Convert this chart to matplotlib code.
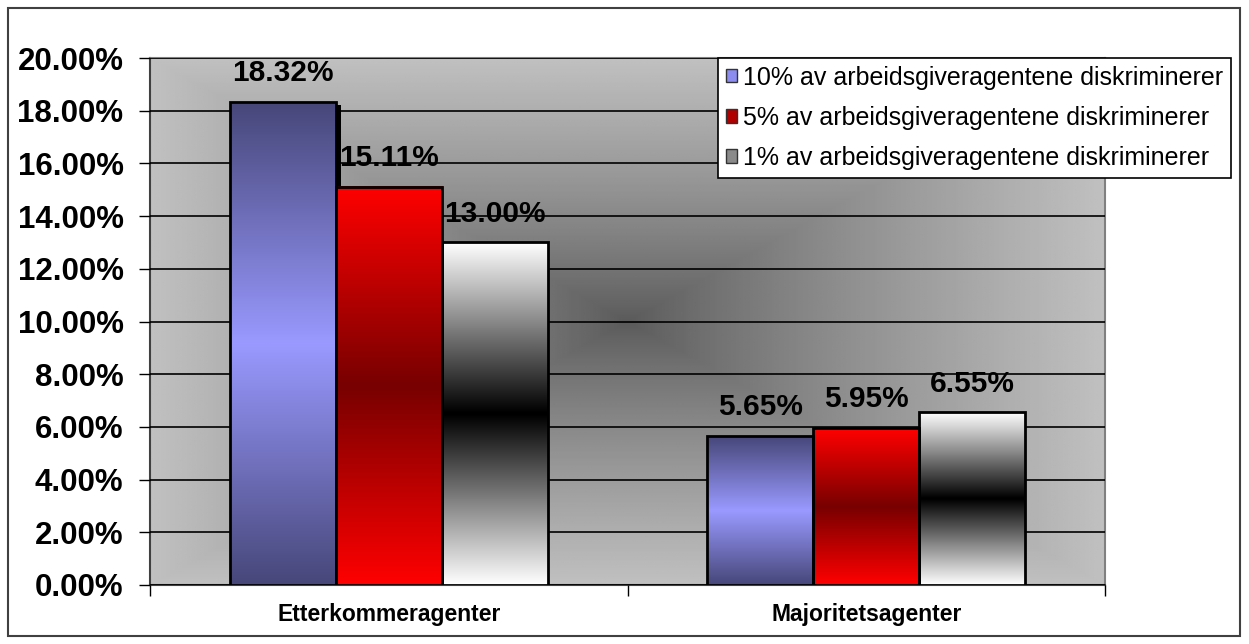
import matplotlib
matplotlib.use('Agg')
import matplotlib.pyplot as plt
import numpy as np
from matplotlib.colors import LinearSegmentedColormap
from matplotlib.patches import Rectangle
from matplotlib.transforms import offset_copy

categories = ['Etterkommeragenter', 'Majoritetsagenter']
series_names = ['10% av arbeidsgiveragentene diskriminerer',
                '5% av arbeidsgiveragentene diskriminerer',
                '1% av arbeidsgiveragentene diskriminerer']
values_10 = [18.32, 5.65]
values_5 = [15.11, 5.95]
values_1 = [13.00, 6.55]
yticks = [0, 2, 4, 6, 8, 10, 12, 14, 16, 18, 20]

# (edge colour, centre colour) of each vertical bar gradient
gradients = [('#47477a', '#9999ff'), ('#ff0000', '#780000'), ('#ffffff', '#000000')]
legend_colors = ['#8c8cf0', '#b00000', '#8a8a8a']

plt.rcParams['font.family'] = ['Liberation Sans', 'DejaVu Sans']

W, H = 1249, 644
fig = plt.figure(figsize=(W / 100, H / 100), dpi=100)
fig.patch.set_facecolor('white')
fig.patches.append(Rectangle((8 / W, 8 / H), 1232 / W, 628 / H, transform=fig.transFigure,
                             fill=False, edgecolor='#404040', lw=1.5))

ax = fig.add_axes([150 / W, (H - 585) / H, 955 / W, 527 / H])

# plot area background: rectangular gradient, dark in the centre
gx = np.linspace(-1, 1, 400)
gy = np.linspace(-1, 1, 300)
X, Y = np.meshgrid(gx, gy)
r = np.maximum(np.abs(X), np.abs(Y)) ** 0.85
bg = 90 + (192 - 90) * r
ax.imshow(bg, cmap='gray', vmin=0, vmax=255, extent=(0, 1, 0, 1), transform=ax.transAxes,
          aspect='auto', zorder=0, interpolation='bilinear')

n = 3
width = 1 / (n + 1.5)
x = np.arange(len(categories))
all_values = [values_10, values_5, values_1]

ramp = np.concatenate([np.linspace(0, 1, 128), np.linspace(1, 0, 128)])[:, None]
shadow_tr = offset_copy(ax.transData, fig=fig, x=5, y=-3, units='dots')

for i, vals in enumerate(all_values):
    cmap = LinearSegmentedColormap.from_list(f'g{i}', list(gradients[i]))
    for j, v in enumerate(vals):
        left = x[j] - 1.5 * width + i * width
        if i == 0:
            sh = Rectangle((left, 0), width, v, transform=shadow_tr, facecolor='black',
                           edgecolor='none', zorder=2)
            ax.add_patch(sh)
        ax.imshow(ramp, cmap=cmap, vmin=0, vmax=1, extent=(left, left + width, 0, v),
                  aspect='auto', zorder=3, interpolation='bilinear')
        ax.add_patch(Rectangle((left, 0), width, v, fill=False, edgecolor='black', lw=2, zorder=4))
        ax.annotate(f'{v:.2f}%', (left + width / 2, v), xytext=(0, 15), textcoords='offset points',
                    ha='center', va='baseline', fontsize=21.5, fontweight='bold', zorder=5)

ax.set_xlim(-0.5, len(categories) - 0.5)
ax.set_ylim(0, 20)
ax.set_yticks(yticks)
ax.set_yticklabels([f'{t:.2f}%' for t in yticks], fontsize=22.5, fontweight='bold')
ax.yaxis.grid(True, color='black', lw=1.2)
ax.set_axisbelow(False)
for gl in ax.get_ygridlines():
    gl.set_zorder(1)
ax.tick_params(axis='y', length=8, width=1, direction='out', pad=11)

ax.set_xticks([-0.5, 0.5, 1.5])
ax.set_xticklabels([])
ax.set_xticks(x, minor=True)
ax.set_xticklabels(categories, minor=True, fontsize=16.5, fontweight='bold')
ax.tick_params(axis='x', which='major', length=8, width=1, direction='out')
ax.tick_params(axis='x', which='minor', length=0, pad=13)

for s in ['top', 'right']:
    ax.spines[s].set_color('#808080')
    ax.spines[s].set_linewidth(1.5)
ax.spines['left'].set_color('#404040')
ax.spines['bottom'].set_color('#404040')
ax.spines['left'].set_linewidth(1.5)
ax.spines['bottom'].set_linewidth(1.5)

handles = [Rectangle((0, 0), 1, 1, facecolor=c, edgecolor='#333333', lw=1) for c in legend_colors]
leg = fig.legend(handles, series_names, loc='upper left', bbox_to_anchor=(718 / W, 1 - 58 / H),
                 bbox_transform=fig.transFigure, borderaxespad=0, fontsize=18, frameon=True,
                 fancybox=False, edgecolor='black', framealpha=1, handlelength=0.45,
                 handleheight=0.45, handletextpad=0.25, labelspacing=0.65, borderpad=0.3)
leg.get_frame().set_linewidth(1.2)

plt.savefig('out.png', dpi=100)
